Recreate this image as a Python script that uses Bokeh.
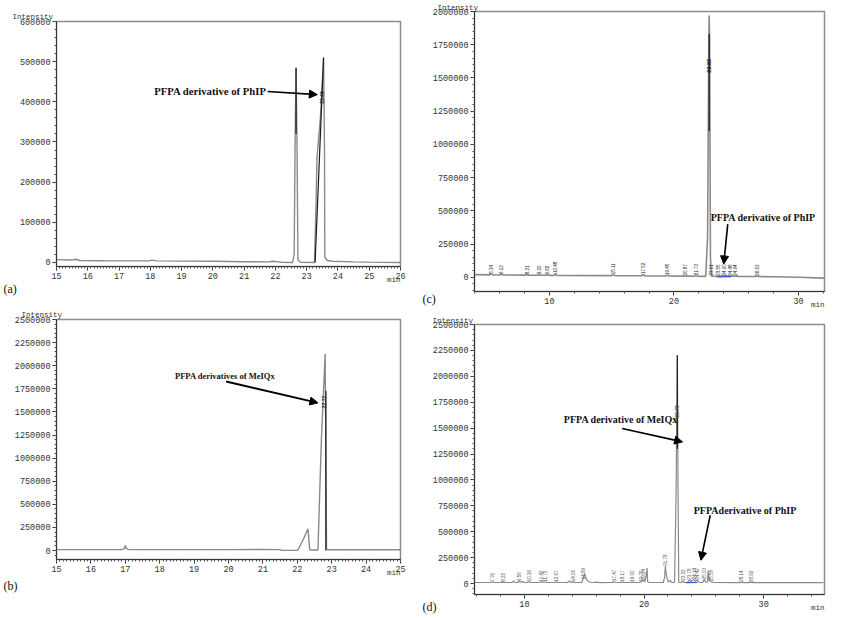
import math
import numpy as np
from bokeh.plotting import figure
from bokeh.layouts import column, row
from bokeh.models import (Range1d, SingleIntervalTicker, BasicTickFormatter, Label, Arrow,
                          NormalHead, Title)
from bokeh.embed import file_html
from bokeh.resources import INLINE
from bokeh.core.properties import value

# ---------------- data ----------------
# (a) PhIP standard, 15-26 min
a_time = [15.0, 15.5, 15.62, 15.75, 16.5, 17.5, 17.95, 18.05, 18.2, 19.0, 20.0, 21.0, 21.8, 21.9, 22.1,
          22.2, 22.55, 22.6, 22.63, 22.66, 22.69, 22.72, 22.8, 23.25, 23.3, 23.33, 23.44, 23.54, 23.57,
          23.58, 23.66, 23.82, 24.5, 25.0, 26.0]
a_int = [7000, 6000, 8000, 5000, 4500, 4000, 4000, 6000, 4000, 3500, 3000, 2000, 1500, 3000, 1500,
         500, 0, 20000, 300000, 485000, 300000, 6000, 500, 0, 150000, 262000, 362000, 510000, 279000,
         13000, 5000, 3000, 1500, 800, 0]
a_dark_time = [22.66, 22.66, float("nan"), 23.27, 23.54]
a_dark_int = [485000, 320000, float("nan"), 0, 510000]
a_peak_time = [23.48]
a_peak_int = [395000]

# (b) MeIQx standard, 15-25 min
b_time = [15.0, 16.0, 16.9, 16.97, 17.0, 17.03, 17.1, 18.0, 19.0, 20.0, 21.0, 21.5, 21.55, 22.0, 22.02,
          22.15, 22.31, 22.36, 22.4, 22.6, 22.7, 22.81, 22.85, 22.9, 23.5, 24.0, 25.0]
b_int = [10000, 10000, 10000, 20000, 54000, 20000, 10000, 10000, 10000, 10000, 12000, 10000, 2000, 2000,
         8000, 100000, 235000, 10000, 5000, 5000, 1200000, 2129000, 10000, 8000, 8000, 8000, 8000]
b_dark_time = [22.83, 22.83]
b_dark_int = [1730000, 0]
b_peak_time = [22.77]
b_peak_int = [1540000]

# (c) sample chromatogram, 4-32 min
c_time = [4.0, 5.2, 5.34, 5.5, 6.0, 6.12, 6.3, 8.1, 8.21, 8.35, 9.1, 9.2, 9.3, 9.7, 9.82, 9.95,
          10.4, 10.48, 10.6, 15.0, 15.11, 15.25, 17.4, 17.52, 17.65, 19.35, 19.45, 19.6, 20.8, 20.87,
          21.0, 21.65, 21.73, 21.85, 22.55, 22.7, 22.8, 22.83, 22.86, 22.93, 23.0, 23.1, 23.55, 24.0,
          24.48, 24.94, 25.2, 26.5, 26.63, 26.8, 28.0, 30.0, 32.1]
c_int = [20000, 18000, 24000, 17500, 17000, 22000, 17000, 16000, 21000, 15500, 15000, 20000, 15000,
         15000, 19000, 14500, 14500, 30000, 14000, 12500, 20000, 12000, 11000, 22000, 10500, 10000,
         16000, 9500, 9000, 12000, 8500, 8000, 14000, 7500, 7000, 300000, 1800000, 1970000, 1800000,
         150000, 12000, 8000, 9000, 12000, 10000, 9000, 7000, 6000, 9000, 5500, 4000, 0, -6000]
c_dark_time = [22.83, 22.83]
c_dark_int = [1830000, 1100000]
c_blue_time = [23.45, 24.6]
c_blue_int = [3000, 5000]
c_label_time = [5.34, 6.12, 8.21, 9.20, 9.82, 10.48, 15.11, 17.52, 19.45, 20.87, 21.73,
                23.01, 23.55, 24.00, 24.48, 24.94, 26.63]
c_peak_time = [22.83]
c_peak_int = [1540000]

# (d) sample chromatogram, 6-35 min
d_time = [5.83, 7.2, 7.31, 7.45, 8.1, 8.22, 8.35, 9.0, 9.1, 9.2, 9.45, 9.56, 9.7, 9.85, 10.0, 10.25,
          10.36, 10.5, 11.3, 11.42, 11.55, 11.75, 11.9, 12.55, 12.67, 12.8, 13.6, 13.75, 13.9, 14.0,
          14.06, 14.2, 14.8, 14.95, 15.05, 15.15, 15.3, 15.5, 15.8, 16.0, 16.3, 17.35, 17.47, 17.6,
          18.1, 18.17, 18.3, 18.9, 19.0, 19.1, 19.7, 19.8, 19.94, 20.05, 20.15, 20.25, 20.3, 20.5,
          21.6, 21.72, 21.78, 21.85, 21.95, 22.05, 22.2, 22.3, 22.55, 22.68, 22.78, 22.84, 22.9,
          23.1, 23.22, 23.35, 23.65, 23.78, 23.9, 24.14, 24.3, 24.42, 24.6, 24.9, 25.03, 25.15,
          25.3, 25.36, 25.45, 25.58, 25.75, 28.0, 28.14, 28.3, 28.8, 28.92, 29.1, 35.0]
d_int = [10000, 10000, 18000, 10000, 10000, 16000, 10000, 10000, 25000, 10000, 10000, 22000, 12000,
         18000, 10000, 10000, 20000, 10000, 10000, 18000, 10000, 17000, 10000, 10000, 16000, 10000,
         10000, 24000, 10000, 10000, 20000, 10000, 10000, 60000, 95000, 45000, 25000, 12000, 10000,
         14000, 9000, 10000, 22000, 12000, 10000, 16000, 10000, 10000, 16000, 10000, 10000, 25000,
         30000, 15000, 60000, 150000, 15000, 10000, 10000, 60000, 170000, 90000, 40000, 15000, 30000,
         10000, 10000, 900000, 2204000, 900000, 10000, 10000, 25000, 10000, 12000, 35000, 20000,
         40000, 25000, 35000, 12000, 10000, 40000, 12000, 12000, 125000, 30000, 20000, 10000, 9000,
         14000, 9000, 9000, 13000, 8000, 8000]
d_dark_time = [22.78, 22.78]
d_dark_int = [2204000, 1300000]
d_blue_time = [23.5, 24.45]
d_blue_int = [9000, 11000]
d_label_time = [7.31, 8.22, 9.56, 10.36, 11.42, 11.75, 12.67, 14.06, 14.89, 17.47, 18.17, 19.00,
                19.75, 19.94, 21.78, 23.22, 23.78, 24.14, 24.42, 25.03, 25.58, 28.14, 28.92]
d_peak_time = [22.78]
d_peak_int = [1600000]

TICK_FONT = "Liberation Mono"
SERIF = "Liberation Serif"
GRAY = "#8a8a8a"
DARK = "#1a1a1a"


def make_panel(width, height, borders, xr, yr, xint, xminor, yint, yminor):
    l, r, t, b = borders
    p = figure(width=width, height=height, x_range=Range1d(*xr), y_range=Range1d(*yr),
               output_backend="svg", toolbar_location=None,
               min_border_left=l, min_border_right=r, min_border_top=t, min_border_bottom=b)
    p.grid.visible = False
    p.outline_line_color = "#8c8c8c"
    p.outline_line_width = 1.5
    for ax, iv, mn in ((p.xaxis[0], xint, xminor), (p.yaxis[0], yint, yminor)):
        ax.ticker = SingleIntervalTicker(interval=iv, num_minor_ticks=mn)
        ax.formatter = BasicTickFormatter(use_scientific=False)
        ax.major_label_text_font = TICK_FONT
        ax.major_label_text_font_size = "8.5px"
        ax.major_label_text_color = "#333333"
        ax.axis_line_color = "#333333"
        ax.major_tick_line_color = "#333333"
        ax.minor_tick_line_color = "#555555"
        ax.major_tick_out = 4
        ax.major_tick_in = 0
        ax.minor_tick_out = 2
        ax.minor_tick_in = 0
        ax.major_label_standoff = 2
    return p


def title(p, text, side, align, offset, standoff, font, size, valign, color="#333333"):
    p.add_layout(Title(text=text, align=align, offset=offset, standoff=standoff,
                       vertical_align=valign, text_font=font, text_font_size=size,
                       text_font_style="normal", text_color=color), side)


def frame_texts(p, letter, int_off, int_standoff, letter_off, letter_standoff):
    title(p, "Intensity", "above", "left", int_off, int_standoff, TICK_FONT, "7.5px", "bottom")
    # zero-height "min" panel first, then the panel letter
    title(p, "min", "below", "right", 0, -10.5, TICK_FONT, "7.5px", "top")
    title(p, letter, "below", "left", letter_off, letter_standoff, SERIF, "12px", "top", "#111111")


def note(p, x, y, text, size):
    p.add_layout(Label(x=x, y=y, text=text, text_font=SERIF, text_font_style="bold",
                       text_font_size=size, text_color="#111111",
                       text_align="center", text_baseline="middle"))


def arrow(p, xs, ys, xe, ye, lw=1.6):
    p.add_layout(Arrow(end=NormalHead(size=8, fill_color="black", line_color="black"),
                       x_start=xs, y_start=ys, x_end=xe, y_end=ye,
                       line_color="black", line_width=lw))


def rt_labels(p, times, trace_t, trace_i, color, size):
    ys = [float(np.interp(t, trace_t, trace_i)) + 2000 for t in times]
    p.text(x=times, y=ys, text=[f"{t:.2f}" for t in times], angle=math.pi / 2,
           text_font=value("Liberation Sans"), text_font_size=size, text_color=color,
           text_align="left", text_baseline="middle")


def peak_label(p, t, i, color, size):
    p.text(x=t, y=i, text=[f"{v:.2f}" for v in t], angle=math.pi / 2,
           text_font=value("Liberation Sans"), text_font_size=size, text_color=color,
           text_font_style="bold", text_align="left", text_baseline="middle")


# ---------------- (a) ----------------
fa = make_panel(420, 300, (56, 20, 21, 34), (15, 26), (-10000, 600000), 1, 10, 100000, 5)
fa.line(a_time, a_int, line_color=GRAY, line_width=1.4)
fa.line(a_dark_time, a_dark_int, line_color=DARK, line_width=1.2)
peak_label(fa, a_peak_time, a_peak_int, DARK, "5px")
note(fa, 19.92, 428000, "PFPA derivative of PhIP", "10.7px")
arrow(fa, 21.75, 425700, 23.34, 418000)
frame_texts(fa, "(a)", -44, 2, -53, 1)

# ---------------- (b) ----------------
fb = make_panel(420, 316, (56, 20, 19, 57), (15, 25), (-97000, 2500000), 1, 10, 250000, 5)
fb.line(b_time, b_int, line_color=GRAY, line_width=1.4)
fb.line(b_dark_time, b_dark_int, line_color=DARK, line_width=1.2)
peak_label(fb, b_peak_time, b_peak_int, DARK, "5px")
note(fb, 19.90, 1894000, "PFPA derivatives of MeIQx", "8.5px")
arrow(fb, 19.93, 1829000, 22.60, 1598000, 2)
frame_texts(fb, "(b)", -35, 2, -53, 9)

# ---------------- (c) ----------------
fc = make_panel(428, 314, (54, 24, 11, 23), (3.98, 32.09), (-107000, 2000000), 10, 5, 250000, 5)
fc.line(c_time, c_int, line_color=GRAY, line_width=1.6)
fc.line(c_dark_time, c_dark_int, line_color=DARK, line_width=1.2)
fc.line(c_blue_time, c_blue_int, line_color="#3355dd", line_width=1.2)
rt_labels(fc, c_label_time, c_time, c_int, DARK, "4.5px")
peak_label(fc, c_peak_time, c_peak_int, DARK, "5.5px")
note(fc, 27.17, 450000, "PFPA derivative of PhIP", "10px")
arrow(fc, 24.32, 400000, 24.0, 100000)
frame_texts(fc, "(c)", -37, 0, -52, -29)

# ---------------- (d) ----------------
fd = make_panel(428, 302, (54, 24, 10, 22), (5.83, 35.08), (-106000, 2500000), 10, 5, 250000, 5)
fd.line(d_time, d_int, line_color=GRAY, line_width=1.2)
fd.line(d_dark_time, d_dark_int, line_color=DARK, line_width=1.2)
fd.line(d_blue_time, d_blue_int, line_color="#3355dd", line_width=1.2)
rt_labels(fd, d_label_time, d_time, d_int, "#555555", "4.5px")
peak_label(fd, d_peak_time, d_peak_int, "#555555", "5px")
note(fd, 18.06, 1583000, "PFPA derivative of MeIQx", "10px")
arrow(fd, 18.17, 1496000, 23.22, 1367000)
note(fd, 28.44, 701000, "PFPAderivative of PhIP", "10px")
arrow(fd, 25.53, 659000, 24.75, 225000)
frame_texts(fd, "(d)", -42, 0, -52, -19)

layout = row(column(fa, fb), column(fc, fd))
open("out.html", "w").write(file_html(layout, INLINE))
